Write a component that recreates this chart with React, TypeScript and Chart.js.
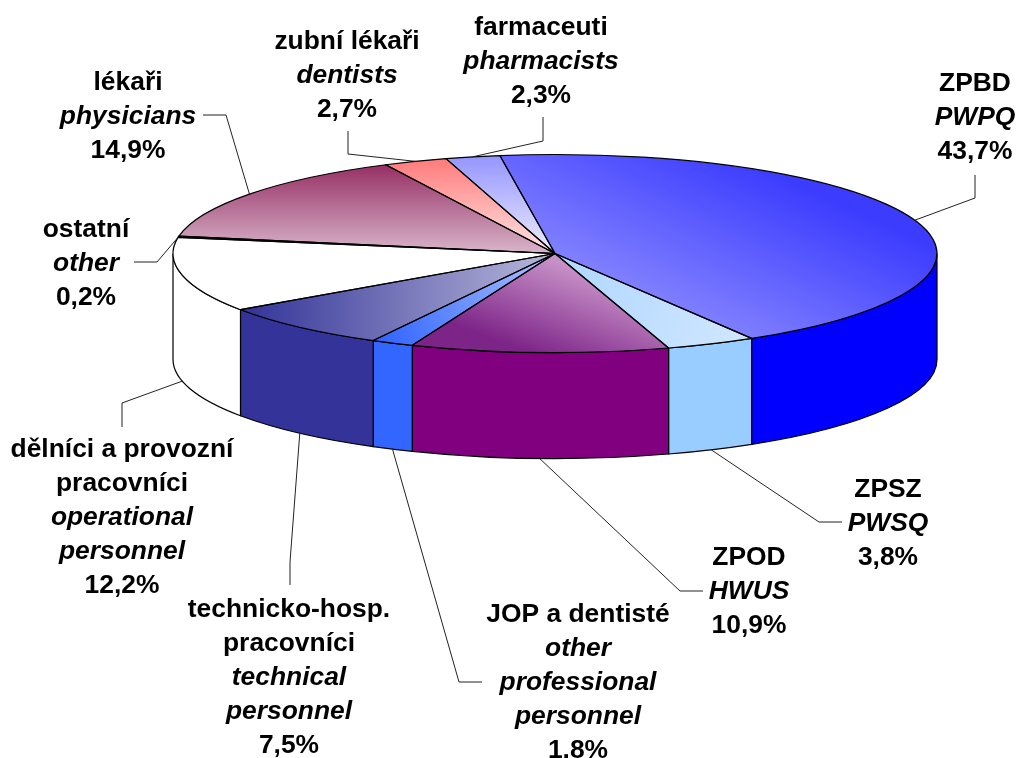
import React, { useEffect, useRef } from "react";
import { Chart, registerables } from "chart.js";

Chart.register(...registerables);

const shares = [43.7, 3.8, 10.9, 1.8, 7.5, 12.2, 0.2, 14.9, 2.7, 2.3];
const czechLabels = [
  ["ZPBD"],
  ["ZPSZ"],
  ["ZPOD"],
  ["JOP a dentisté"],
  ["technicko-hosp.", "pracovníci"],
  ["dělníci a provozní", "pracovníci"],
  ["ostatní"],
  ["lékaři"],
  ["zubní lékaři"],
  ["farmaceuti"],
];
const englishLabels = [
  ["PWPQ"],
  ["PWSQ"],
  ["HWUS"],
  ["other", "professional", "personnel"],
  ["technical", "personnel"],
  ["operational", "personnel"],
  ["other"],
  ["physicians"],
  ["dentists"],
  ["pharmacists"],
];
const shareLabels = ["43,7%", "3,8%", "10,9%", "1.8%", "7,5%", "12,2%", "0,2%", "14,9%", "2,7%", "2,3%"];

const sideColors = ["#0000ff", "#99ccff", "#800080", "#3366ff", "#333399", "#ffffff", "#ffffff", "#993366", "#ff8080", "#9999ff"];

// screen-space gradient: x0, y0, x1, y1, colour0, colour1
const topGradients: [number, number, number, number, string, string][] = [
  [543, 290, 630, 105, "#9090ff", "#3c3cff"],
  [740, 345, 590, 262, "#cfe6ff", "#b4d9ff"],
  [546, 359, 580, 269, "#7d2488", "#c892c8"],
  [385, 342, 540, 262, "#3366ff", "#a5bcff"],
  [243, 300, 555, 300, "#333399", "#b8b8da"],
  [0, 0, 0, 100, "#ffffff", "#ffffff"],
  [0, 0, 0, 100, "#ffffff", "#ffffff"],
  [0, 165, 0, 250, "#963065", "#d6b0c6"],
  [0, 160, 0, 250, "#ff7c7c", "#ffe2e2"],
  [0, 156, 0, 252, "#9595ff", "#ececff"],
];

// label centre x and first baseline
const labelX = [975, 888, 749, 578, 289, 122, 86, 128, 347, 541];
const labelY = [91, 497, 565, 622, 617, 457, 237, 90, 49, 35];
// elbow and end of each leader line
const leaderElbowX = [975, 819, 680, 459, 290, 122, 157, 226, 348, 543];
const leaderElbowY = [198, 522, 591, 682, 562, 403, 262, 115, 154, 141];
const leaderEndX = [975, 842, 703, 482, 290, 122, 134, 203, 348, 543];
const leaderEndY = [175, 522, 591, 682, 585, 427, 262, 115, 131, 117];

const PIE_ROTATION = -8.3;
const PIE_X = 555;
const PIE_Y = 253.5;
const PIE_RX = 382;
const PIE_RY = 99;
const PIE_DEPTH = 106;
const FONT_SIZE = 26.4;
const LINE_GAP = 34.1;
const FONT = "'Liberation Sans', Arial, sans-serif";

function pieFrame(chart: any) {
  const area = chart.chartArea ?? { left: 0, right: chart.width, top: 0, bottom: chart.height };
  const w = area.right - area.left;
  const h = area.bottom - area.top;
  const r = Math.min(w, h) / 2;
  return { cx: area.left + w / 2, cy: area.top + h / 2, sx: PIE_RX / r, sy: PIE_RY / r };
}

function sliceFill(context: any) {
  const chart = context.chart;
  const [x0, y0, x1, y1, c0, c1] = topGradients[context.dataIndex];
  const { cx, cy, sx, sy } = pieFrame(chart);
  // keep the gradient straight on screen although the pie is drawn through a squash
  const dx = x1 - x0;
  const dy = y1 - y0;
  const d2 = dx * dx + dy * dy;
  const gx = (sx * dx) / d2;
  const gy = (sy * dy) / d2;
  const g2 = gx * gx + gy * gy;
  const ux = cx + (x0 - PIE_X) / sx;
  const uy = cy + (y0 - PIE_Y) / sy;
  const grad = chart.ctx.createLinearGradient(ux, uy, ux + gx / g2, uy + gy / g2);
  grad.addColorStop(0, c0);
  grad.addColorStop(1, c1);
  return grad;
}

const pie3d = {
  id: "pie3d",
  beforeDatasetsDraw(chart: any) {
    const ctx = chart.ctx;
    const arcs = chart.getDatasetMeta(0).data;
    ctx.save();
    ctx.lineWidth = 1.2;
    ctx.strokeStyle = "#000";
    arcs.forEach((arc: any, i: number) => {
      const s = Math.max(arc.startAngle, 0);
      const e = Math.min(arc.endAngle, Math.PI);
      if (s >= e) return;
      ctx.beginPath();
      ctx.ellipse(PIE_X, PIE_Y, PIE_RX, PIE_RY, 0, s, e);
      ctx.ellipse(PIE_X, PIE_Y + PIE_DEPTH, PIE_RX, PIE_RY, 0, e, s, true);
      ctx.closePath();
      ctx.fillStyle = sideColors[i];
      ctx.fill();
      ctx.stroke();
    });
    ctx.restore();
    const { cx, cy, sx, sy } = pieFrame(chart);
    ctx.save();
    ctx.translate(PIE_X, PIE_Y);
    ctx.scale(sx, sy);
    ctx.translate(-cx, -cy);
  },
  afterDatasetsDraw(chart: any) {
    const ctx = chart.ctx;
    ctx.restore();
    const arcs = chart.getDatasetMeta(0).data;
    ctx.save();
    ctx.lineWidth = 1.2;
    ctx.strokeStyle = "#000";
    ctx.lineJoin = "round";
    arcs.forEach((arc: any) => {
      ctx.beginPath();
      ctx.moveTo(PIE_X, PIE_Y);
      ctx.ellipse(PIE_X, PIE_Y, PIE_RX, PIE_RY, 0, arc.startAngle, arc.endAngle);
      ctx.closePath();
      ctx.stroke();
    });
    // leader lines start on the visible rim at each slice's middle angle
    ctx.lineWidth = 1;
    ctx.strokeStyle = "#222";
    arcs.forEach((arc: any, i: number) => {
      const a = (arc.startAngle + arc.endAngle) / 2;
      const front = a > 0 && a < Math.PI;
      const x = PIE_X + PIE_RX * Math.cos(a);
      const y = PIE_Y + PIE_RY * Math.sin(a) + (front ? PIE_DEPTH : 0);
      ctx.beginPath();
      ctx.moveTo(x, y);
      ctx.lineTo(leaderElbowX[i], leaderElbowY[i]);
      ctx.lineTo(leaderEndX[i], leaderEndY[i]);
      ctx.stroke();
    });
    ctx.restore();
  },
  afterDraw(chart: any) {
    const ctx = chart.ctx;
    ctx.save();
    ctx.textAlign = "center";
    ctx.textBaseline = "alphabetic";
    ctx.fillStyle = "#000";
    shares.forEach((_, i) => {
      let y = labelY[i];
      const put = (text: string, italic: boolean) => {
        ctx.font = `${italic ? "italic " : ""}bold ${FONT_SIZE}px ${FONT}`;
        ctx.fillText(text, labelX[i], y);
        y += LINE_GAP;
      };
      czechLabels[i].forEach((t) => put(t, false));
      englishLabels[i].forEach((t) => put(t, true));
      put(shareLabels[i], false);
    });
    ctx.restore();
  },
};

export default function App() {
  const ref = useRef<HTMLCanvasElement>(null);
  useEffect(() => {
    document.body.style.margin = "0";
    document.body.style.background = "#fff";
    const chart = new Chart(ref.current as HTMLCanvasElement, {
      type: "pie",
      data: {
        labels: czechLabels.map((l) => l.join(" ")),
        datasets: [
          {
            data: shares,
            backgroundColor: sliceFill as any,
            borderWidth: 0,
            clip: false as any,
          },
        ],
      },
      options: {
        responsive: false,
        animation: false,
        rotation: PIE_ROTATION,
        events: [],
        layout: { padding: 0 },
        plugins: { legend: { display: false }, tooltip: { enabled: false } },
      },
      plugins: [pie3d],
    });
    return () => chart.destroy();
  }, []);
  return <canvas ref={ref} width={1016} height={758} style={{ display: "block" }} />;
}
